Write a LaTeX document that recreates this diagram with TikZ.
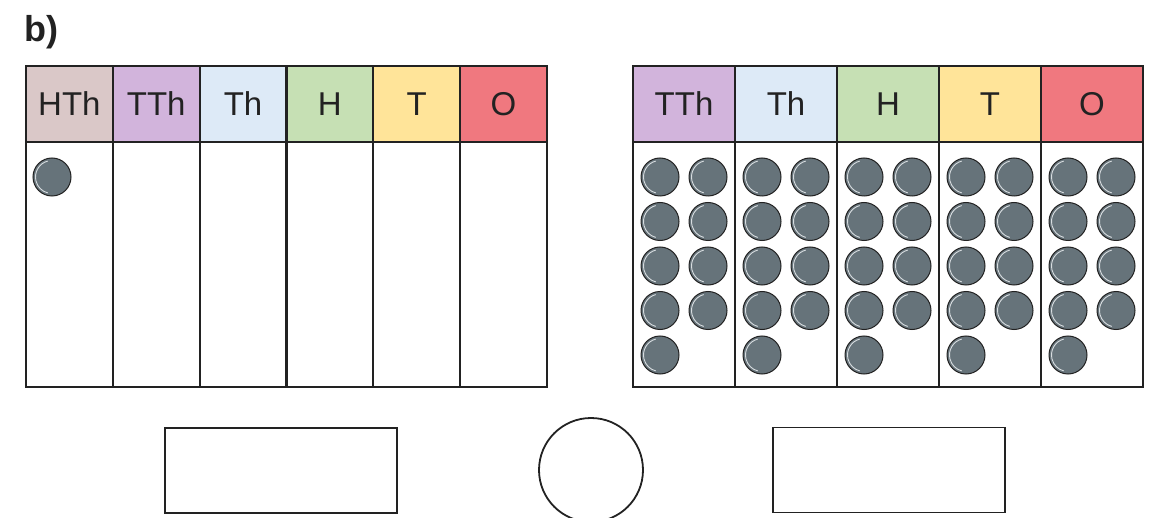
\documentclass[tikz,border=0pt]{standalone}
\usepackage{fontspec}
\setmainfont{Liberation Sans}
\usetikzlibrary{positioning,calc}
\definecolor{pvink}{HTML}{222222}
\definecolor{pvhth}{HTML}{DAC8C8}
\definecolor{pvtth}{HTML}{D2B4DC}
\definecolor{pvth}{HTML}{DDEAF7}
\definecolor{pvh}{HTML}{C6E0B4}
\definecolor{pvt}{HTML}{FFE499}
\definecolor{pvo}{HTML}{F0787F}
\definecolor{pvcounter}{HTML}{66737A}
\definecolor{pvshine}{HTML}{D8DDE0}

\begin{document}
\begin{tikzpicture}[
  x=1pt, y=-1pt,
  headcell/.style={draw=pvink, line width=2.2pt, outer sep=0pt, inner sep=0pt,
    minimum height=76pt, text=pvink, font=\fontsize{33}{40}\selectfont},
  bodycell/.style={draw=pvink, line width=2.2pt, outer sep=0pt, inner sep=0pt,
    minimum height=245pt, fill=white},
  leftcol/.style={minimum width=86.83pt},
  rightcol/.style={minimum width=102pt},
  counter/.style={circle, draw=pvink, line width=1pt, fill=pvcounter,
    minimum size=38pt, inner sep=0pt,
    path picture={\draw[pvshine, line width=0.9pt]
      (path picture bounding box.center) ++(105:16.5pt) arc (105:255:16.5pt);}},
  answerbox/.style={draw=pvink, line width=1.8pt, minimum width=232pt,
    minimum height=85pt, inner sep=0pt},
  answerring/.style={circle, draw=pvink, line width=1.8pt, minimum size=104pt,
    inner sep=0pt}
]
  \useasboundingbox (0,0) rectangle (1166,518);

  \node[anchor=base west, inner sep=0pt, text=pvink,
    font=\fontsize{36}{40}\selectfont\bfseries] (part) at (24,42) {b)};

  \node[headcell, leftcol, fill=pvhth, anchor=north west] (h-lhth) at (26,66) {HTh};
  \node[headcell, leftcol, fill=pvtth, right=0pt of h-lhth] (h-ltth) {TTh};
  \node[headcell, leftcol, fill=pvth, right=0pt of h-ltth] (h-lth) {Th};
  \node[headcell, leftcol, fill=pvh, right=0pt of h-lth] (h-lh) {H};
  \node[headcell, leftcol, fill=pvt, right=0pt of h-lh] (h-lt) {T};
  \node[headcell, leftcol, fill=pvo, right=0pt of h-lt] (h-lo) {O};

  \node[headcell, rightcol, fill=pvtth, anchor=north west] (h-rtth) at (633,66) {TTh};
  \node[headcell, rightcol, fill=pvth, right=0pt of h-rtth] (h-rth) {Th};
  \node[headcell, rightcol, fill=pvh, right=0pt of h-rth] (h-rh) {H};
  \node[headcell, rightcol, fill=pvt, right=0pt of h-rh] (h-rt) {T};
  \node[headcell, rightcol, fill=pvo, right=0pt of h-rt] (h-ro) {O};

  \foreach \col in {lhth,ltth,lth,lh,lt,lo}
    \node[bodycell, leftcol, below=0pt of h-\col] (b-\col) {};
  \foreach \col in {rtth,rth,rh,rt,ro}
    \node[bodycell, rightcol, below=0pt of h-\col] (b-\col) {};

  \node[counter] (c-lhth) at ($(b-lhth.north west)+(26,35)$) {};

  \foreach \col in {rtth,rth,rh,rt,ro} {
    \foreach \row in {0,...,3} {
      \node[counter] (c-\col-\row-a) at ($(b-\col.north west)+(27,35+44.5*\row)$) {};
      \node[counter] (c-\col-\row-b) at ($(b-\col.north west)+(75,35+44.5*\row)$) {};
    }
    \node[counter] (c-\col-4-a) at ($(b-\col.north west)+(27,213)$) {};
  }

  \node[answerbox] (left-ans) at (281,470.5) {};
  \node[answerring] (sign) at (591,470) {};
  \node[answerbox] (right-ans) at (889,470) {};
\end{tikzpicture}
\end{document}
